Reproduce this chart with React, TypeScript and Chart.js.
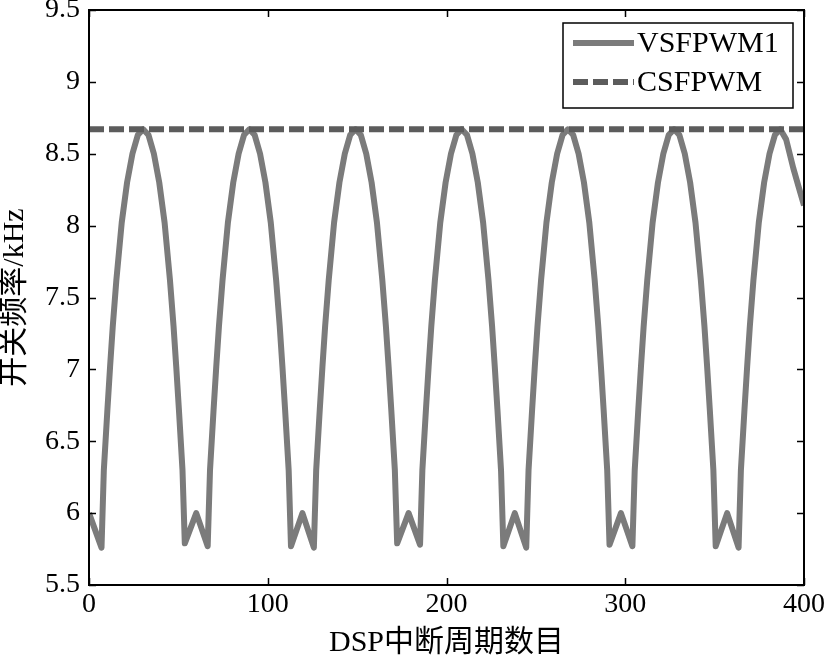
import React, { useEffect, useRef } from 'react';
import { Chart, registerables } from 'chart.js';

Chart.register(...registerables);

// ---- data ----
const vsfX: number[] = [
  0, 7.0, 8.3, 10.3, 11.8, 13.3, 15.3, 18.3, 21.3, 24.3, 27.3, 30.3, 33.3, 36.3, 39.3, 42.3, 45.3, 47.3, 48.8, 50.3, 52.3, 53.6, 60.0,
  66.4, 67.7, 69.7, 71.2, 72.7, 74.7, 77.7, 80.7, 83.7, 86.7, 89.7, 92.7, 95.7, 98.7, 101.7, 104.7, 106.7, 108.2, 109.7, 111.7, 113.0, 119.4,
  125.8, 127.1, 129.1, 130.6, 132.1, 134.1, 137.1, 140.1, 143.1, 146.1, 149.1, 152.1, 155.1, 158.1, 161.1, 164.1, 166.1, 167.6, 169.1, 171.1, 172.4, 178.8,
  185.2, 186.5, 188.5, 190.0, 191.5, 193.5, 196.5, 199.5, 202.5, 205.5, 208.5, 211.5, 214.5, 217.5, 220.5, 223.5, 225.5, 227.0, 228.5, 230.5, 231.8, 238.2,
  244.6, 245.9, 247.9, 249.4, 250.9, 252.9, 255.9, 258.9, 261.9, 264.9, 267.9, 270.9, 273.9, 276.9, 279.9, 282.9, 284.9, 286.4, 287.9, 289.9, 291.2, 297.6,
  304.0, 305.3, 307.3, 308.8, 310.3, 312.3, 315.3, 318.3, 321.3, 324.3, 327.3, 330.3, 333.3, 336.3, 339.3, 342.3, 344.3, 345.8, 347.3, 349.3, 350.6, 357.0,
  363.4, 364.7, 366.7, 368.2, 369.7, 371.7, 374.7, 377.7, 380.7, 383.7, 386.7, 390.0, 394.0, 397.0, 400.0,
];

const vsfY: number[] = [
  6.0, 5.76, 6.30, 6.72, 7.02, 7.30, 7.62, 8.02, 8.30, 8.50, 8.63, 8.67, 8.63, 8.50, 8.30, 8.02, 7.62, 7.30, 7.02, 6.72, 6.30, 5.79, 6.00,
  5.77, 6.30, 6.72, 7.02, 7.30, 7.62, 8.02, 8.30, 8.50, 8.63, 8.67, 8.63, 8.50, 8.30, 8.02, 7.62, 7.30, 7.02, 6.72, 6.30, 5.77, 6.00,
  5.76, 6.30, 6.72, 7.02, 7.30, 7.62, 8.02, 8.30, 8.50, 8.63, 8.67, 8.63, 8.50, 8.30, 8.02, 7.62, 7.30, 7.02, 6.72, 6.30, 5.79, 6.00,
  5.78, 6.30, 6.72, 7.02, 7.30, 7.62, 8.02, 8.30, 8.50, 8.63, 8.67, 8.63, 8.50, 8.30, 8.02, 7.62, 7.30, 7.02, 6.72, 6.30, 5.77, 6.00,
  5.76, 6.30, 6.72, 7.02, 7.30, 7.62, 8.02, 8.30, 8.50, 8.63, 8.67, 8.63, 8.50, 8.30, 8.02, 7.62, 7.30, 7.02, 6.72, 6.30, 5.78, 6.00,
  5.77, 6.30, 6.72, 7.02, 7.30, 7.62, 8.02, 8.30, 8.50, 8.63, 8.67, 8.63, 8.50, 8.30, 8.02, 7.62, 7.30, 7.02, 6.72, 6.30, 5.77, 6.00,
  5.76, 6.30, 6.72, 7.02, 7.30, 7.62, 8.02, 8.30, 8.50, 8.63, 8.67, 8.60, 8.40, 8.27, 8.14,
];

const csfX: number[] = [0, 400];
const csfY: number[] = [8.67, 8.67];

const xTickValues: number[] = [0, 100, 200, 300, 400];
const yTickValues: number[] = [5.5, 6, 6.5, 7, 7.5, 8, 8.5, 9, 9.5];

const seriesLabels: string[] = ['VSFPWM1', 'CSFPWM'];
const xTitle = 'DSP中断周期数目';
const yTitle = '开关频率/kHz';

const SERIF = '"Liberation Serif", "Times New Roman", "Noto Sans CJK SC", serif';

const framePlugin = {
  id: 'matlabFrame',
  afterDraw(chart: any) {
    const { ctx, chartArea: a, scales } = chart;
    ctx.save();
    ctx.strokeStyle = '#000';
    ctx.lineWidth = 2;
    ctx.strokeRect(a.left, a.top, a.right - a.left, a.bottom - a.top);
    const tl = 7;
    ctx.beginPath();
    scales.x.ticks.forEach((t: any) => {
      const px = Math.round(scales.x.getPixelForValue(t.value)) + 0.5;
      ctx.moveTo(px, a.bottom);
      ctx.lineTo(px, a.bottom - tl);
      ctx.moveTo(px, a.top);
      ctx.lineTo(px, a.top + tl);
    });
    scales.y.ticks.forEach((t: any) => {
      const py = Math.round(scales.y.getPixelForValue(t.value)) + 0.5;
      ctx.moveTo(a.left, py);
      ctx.lineTo(a.left + tl, py);
      ctx.moveTo(a.right, py);
      ctx.lineTo(a.right - tl, py);
    });
    ctx.lineWidth = 1.5;
    ctx.stroke();

    // legend box (inside, top-right)
    const bw = 230;
    const bh = 85;
    const bx = a.right - 11 - bw;
    const by = a.top + 13;
    ctx.fillStyle = '#fff';
    ctx.fillRect(bx, by, bw, bh);
    ctx.lineWidth = 1.5;
    ctx.strokeStyle = '#000';
    ctx.strokeRect(bx, by, bw, bh);
    const rowY = [by + 20, by + 59];
    chart.data.datasets.forEach((ds: any, i: number) => {
      const y = rowY[i];
      ctx.beginPath();
      ctx.strokeStyle = ds.borderColor;
      ctx.lineWidth = ds.borderWidth;
      ctx.setLineDash(ds.borderDash || []);
      ctx.moveTo(bx + 10, y);
      ctx.lineTo(bx + 71, y);
      ctx.stroke();
      ctx.setLineDash([]);
      ctx.fillStyle = '#000';
      ctx.font = `30px ${SERIF}`;
      ctx.textBaseline = 'middle';
      ctx.textAlign = 'left';
      ctx.fillText(ds.label, bx + 74, y + 1);
    });
    ctx.restore();
  },
};

export default function App() {
  const ref = useRef<HTMLCanvasElement | null>(null);

  useEffect(() => {
    document.body.style.margin = '0';
    const canvas = ref.current;
    if (!canvas) return;
    const chart = new Chart(canvas, {
      type: 'line',
      data: {
        datasets: [
          {
            label: seriesLabels[0],
            data: vsfX.map((x, i) => ({ x, y: vsfY[i] })),
            borderColor: '#7b7b7b',
            borderWidth: 6,
            pointRadius: 0,
            tension: 0,
            borderJoinStyle: 'round',
            order: 1,
          },
          {
            label: seriesLabels[1],
            data: csfX.map((x, i) => ({ x, y: csfY[i] })),
            borderColor: '#5c5c5c',
            borderWidth: 6,
            borderDash: [15, 5],
            pointRadius: 0,
            tension: 0,
            order: 0,
          },
        ],
      },
      options: {
        animation: false,
        responsive: false,
        devicePixelRatio: 1,
        layout: { padding: { left: 0, top: 10, right: 23, bottom: 0 } },
        plugins: { legend: { display: false }, tooltip: { enabled: false } },
        scales: {
          x: {
            type: 'linear',
            min: 0,
            max: 400,
            afterBuildTicks: (s: any) => {
              s.ticks = xTickValues.map((v) => ({ value: v }));
            },
            afterFit: (s: any) => {
              s.height = 73;
              s.paddingLeft = 0;
              s.paddingRight = 0;
            },
            ticks: {
              color: '#000',
              padding: 3,
              maxRotation: 0,
              autoSkip: false,
              callback: (v: any) => `${v}`,
              font: { family: SERIF, size: 28 },
            },
            grid: { drawOnChartArea: false, drawTicks: false },
            border: { display: false },
            title: {
              display: true,
              text: xTitle,
              color: '#000',
              padding: { top: 0, bottom: 0 },
              font: { family: SERIF, size: 30, lineHeight: 1 },
            },
          },
          y: {
            type: 'linear',
            min: 5.5,
            max: 9.5,
            afterBuildTicks: (s: any) => {
              s.ticks = yTickValues.map((v) => ({ value: v }));
            },
            afterFit: (s: any) => {
              s.width = 89;
              s.paddingTop = 0;
              s.paddingBottom = 0;
            },
            ticks: {
              color: '#000',
              padding: 9,
              autoSkip: false,
              callback: (v: any) => `${v}`,
              font: { family: SERIF, size: 28 },
            },
            grid: { drawOnChartArea: false, drawTicks: false },
            border: { display: false },
            title: {
              display: true,
              text: yTitle,
              color: '#000',
              padding: { top: 0, bottom: 0 },
              font: { family: SERIF, size: 30, lineHeight: 1 },
            },
          },
        },
      },
      plugins: [framePlugin],
    } as any);
    return () => chart.destroy();
  }, []);

  return (
    <div style={{ position: 'fixed', left: 0, top: 0, width: 827, height: 658, background: '#fff' }}>
      <canvas ref={ref} width={827} height={658} style={{ width: 827, height: 658 }} />
    </div>
  );
}
